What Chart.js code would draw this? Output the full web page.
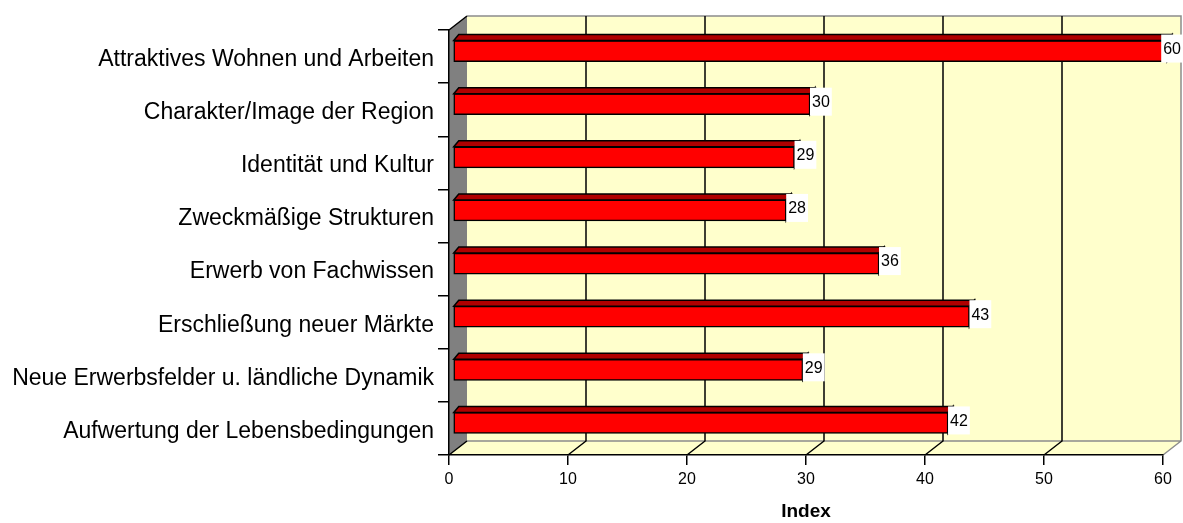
<!DOCTYPE html>
<html>
<head>
<meta charset="utf-8">
<script src="https://cdn.jsdelivr.net/npm/chart.js@4/dist/chart.umd.min.js"></script>
<style>
    html, body { margin: 0; padding: 0; background: #ffffff; }
    #wrap { width: 1183px; height: 523px; }
</style>
</head>
<body>
<div id="wrap"><canvas id="index_chart" width="1183" height="523"></canvas></div>
<script>
const categories = [
    'Attraktives Wohnen und Arbeiten',
    'Charakter/Image der Region',
    'Identität und Kultur',
    'Zweckmäßige Strukturen',
    'Erwerb von Fachwissen',
    'Erschließung neuer Märkte',
    'Neue Erwerbsfelder u. ländliche Dynamik',
    'Aufwertung der Lebensbedingungen'
];
// bar lengths (labels show them rounded)
const indexValues = [60, 30.0, 28.7, 28.0, 35.8, 43.4, 29.4, 41.6];
const xMin = 0;
const xMax = 60;
const xStep = 10;

// 3D look: depth of the back wall and offset of the bars inside it
const DEPTH_X = 18, DEPTH_Y = -14;
const BAR_DX = 4, BAR_DY = -5.5;
const TOP_DX = 5, TOP_DY = -6;
const FONT = "'Liberation Sans', Arial, sans-serif";

const wallPlugin = {
    id: 'wall3d',
    beforeDraw(chart) {
        const ctx = chart.ctx;
        const xs = chart.scales.x;
        const a = chart.chartArea;
        const x0 = xs.getPixelForValue(xMin);
        const x1 = xs.getPixelForValue(xMax);
        ctx.save();
        // back wall
        ctx.fillStyle = '#FFFFCC';
        ctx.fillRect(x0 + DEPTH_X, a.top + DEPTH_Y, x1 - x0, a.bottom - a.top);
        // floor
        ctx.beginPath();
        ctx.moveTo(x0, a.bottom);
        ctx.lineTo(x1, a.bottom);
        ctx.lineTo(x1 + DEPTH_X, a.bottom + DEPTH_Y);
        ctx.lineTo(x0 + DEPTH_X, a.bottom + DEPTH_Y);
        ctx.closePath();
        ctx.fill();
        // grey outline of back wall and floor
        ctx.strokeStyle = '#8C8C8C';
        ctx.lineWidth = 1.5;
        ctx.beginPath();
        ctx.moveTo(x0 + DEPTH_X, a.top + DEPTH_Y);
        ctx.lineTo(x1 + DEPTH_X, a.top + DEPTH_Y);
        ctx.lineTo(x1 + DEPTH_X, a.bottom + DEPTH_Y);
        ctx.lineTo(x1, a.bottom);
        ctx.moveTo(x0 + DEPTH_X, a.bottom + DEPTH_Y);
        ctx.lineTo(x1 + DEPTH_X, a.bottom + DEPTH_Y);
        ctx.stroke();
        // gridlines on back wall and floor
        ctx.strokeStyle = '#000000';
        for (let v = xMin + xStep; v < xMax; v += xStep) {
            const px = xs.getPixelForValue(v);
            ctx.beginPath();
            ctx.moveTo(px + DEPTH_X, a.top + DEPTH_Y);
            ctx.lineTo(px + DEPTH_X, a.bottom + DEPTH_Y);
            ctx.lineTo(px, a.bottom);
            ctx.stroke();
        }
        // grey side wall
        ctx.fillStyle = '#808080';
        ctx.beginPath();
        ctx.moveTo(x0, a.top);
        ctx.lineTo(x0 + DEPTH_X, a.top + DEPTH_Y);
        ctx.lineTo(x0 + DEPTH_X, a.bottom + DEPTH_Y);
        ctx.lineTo(x0, a.bottom);
        ctx.closePath();
        ctx.fill();
        ctx.beginPath();
        ctx.moveTo(x0, a.top);
        ctx.lineTo(x0 + DEPTH_X, a.top + DEPTH_Y);
        ctx.moveTo(x0, a.bottom);
        ctx.lineTo(x0 + DEPTH_X, a.bottom + DEPTH_Y);
        ctx.stroke();
        ctx.restore();
    },
    beforeDatasetsDraw(chart) {
        chart.ctx.save();
        chart.ctx.translate(BAR_DX, BAR_DY);
    },
    afterDatasetsDraw(chart) {
        const ctx = chart.ctx;
        const meta = chart.getDatasetMeta(0);
        // top and end faces of each bar
        meta.data.forEach(bar => {
            const top = bar.y - bar.height / 2;
            const bottom = bar.y + bar.height / 2;
            ctx.lineWidth = 1.5;
            ctx.strokeStyle = '#000000';
            ctx.fillStyle = '#B00000';
            ctx.beginPath();
            ctx.moveTo(bar.base, top);
            ctx.lineTo(bar.base + TOP_DX, top + TOP_DY);
            ctx.lineTo(bar.x + TOP_DX, top + TOP_DY);
            ctx.lineTo(bar.x, top);
            ctx.closePath();
            ctx.fill();
            ctx.stroke();
            ctx.fillStyle = '#800000';
            ctx.beginPath();
            ctx.moveTo(bar.x, top);
            ctx.lineTo(bar.x + TOP_DX, top + TOP_DY);
            ctx.lineTo(bar.x + TOP_DX, bottom + TOP_DY);
            ctx.lineTo(bar.x, bottom);
            ctx.closePath();
            ctx.fill();
            ctx.stroke();
        });
        ctx.restore();

        // value labels in white boxes
        ctx.save();
        ctx.font = '16px ' + FONT;
        ctx.textBaseline = 'middle';
        meta.data.forEach((bar, i) => {
            const text = String(Math.round(indexValues[i]));
            const w = ctx.measureText(text).width + 4;
            const top = bar.y + BAR_DY - bar.height / 2 + TOP_DY;
            const bottom = bar.y + BAR_DY + bar.height / 2 + 1;
            let bx = bar.x + BAR_DX;
            if (bx + w > chart.width) bx = chart.width - w;
            ctx.fillStyle = '#FFFFFF';
            ctx.fillRect(bx, top, w, bottom - top);
            ctx.fillStyle = '#000000';
            ctx.fillText(text, bx + 2, (top + bottom) / 2 + 1);
        });
        ctx.restore();
    }
};

new Chart(document.getElementById('index_chart'), {
    type: 'bar',
    data: {
        labels: categories,
        datasets: [{
            label: 'Index',
            data: indexValues,
            backgroundColor: '#FF0000',
            borderColor: '#000000',
            borderWidth: 1.5,
            borderSkipped: false,
            barThickness: 21
        }]
    },
    options: {
        indexAxis: 'y',
        responsive: false,
        animation: false,
        layout: { padding: { top: 30, right: 20, left: 0, bottom: 0 } },
        plugins: {
            legend: { display: false },
            tooltip: { enabled: false }
        },
        scales: {
            x: {
                type: 'linear',
                min: xMin,
                max: xMax,
                ticks: { stepSize: xStep, padding: 5, color: '#000000', font: { family: FONT, size: 16 } },
                grid: { drawOnChartArea: false, tickLength: 10, color: '#000000', lineWidth: 1.5 },
                border: { color: '#000000', width: 1.5 },
                title: { display: true, text: 'Index', color: '#000000', padding: 0,
                         font: { family: FONT, size: 19, weight: 'bold' } },
                afterFit(scale) { scale.height = 68; }
            },
            y: {
                ticks: { padding: 4, labelOffset: 3, color: '#000000', font: { family: FONT, size: 23 } },
                grid: { drawOnChartArea: false, tickLength: 11, color: '#000000', lineWidth: 1.5 },
                border: { color: '#000000', width: 1.5 },
                afterFit(scale) { scale.width = 449; }
            }
        }
    },
    plugins: [wallPlugin]
});
</script>
</body>
</html>
